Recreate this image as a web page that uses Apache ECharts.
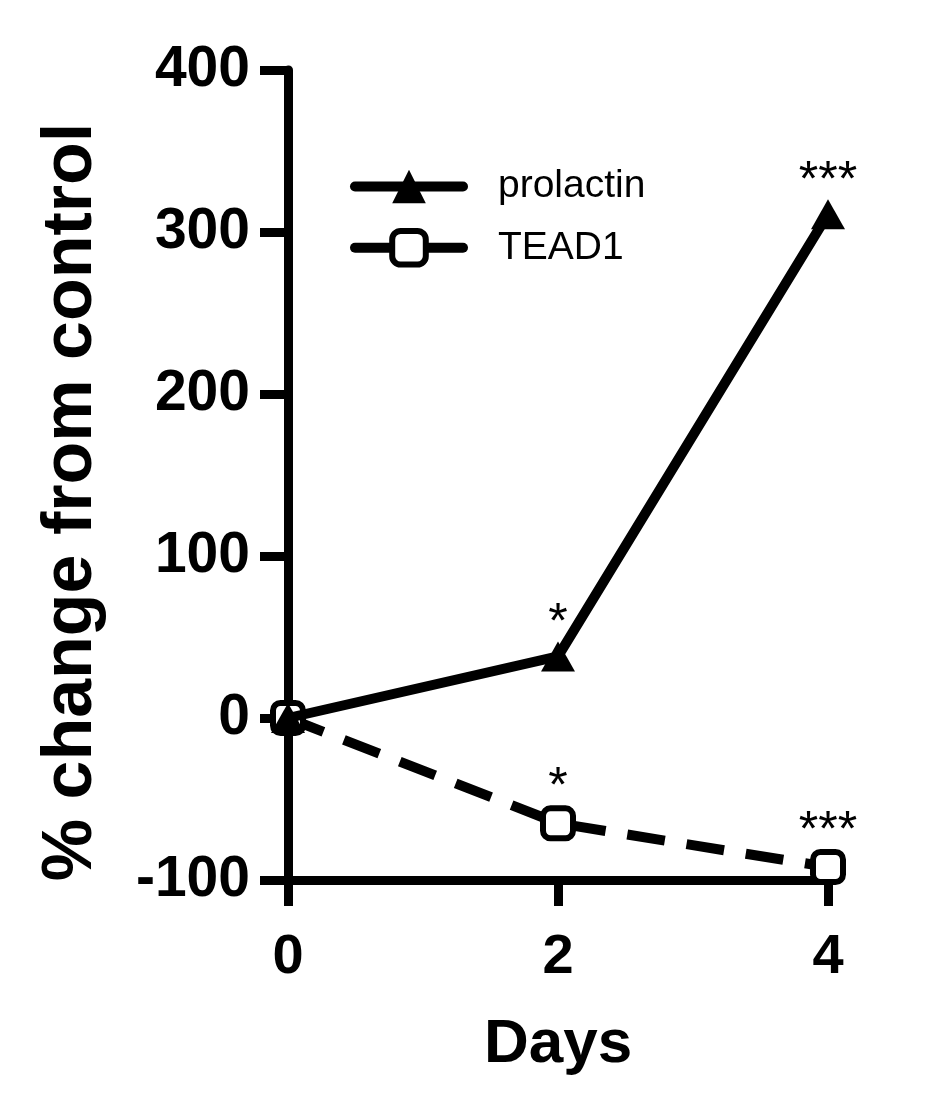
<!DOCTYPE html>
<html>
<head>
<meta charset="utf-8">
<script src="https://cdn.jsdelivr.net/npm/echarts@6/dist/echarts.min.js"></script>
<style>html,body{margin:0;padding:0;background:#fff;}#c{width:925px;height:1108px;}</style>
</head>
<body>
<div id="c"></div>
<script>
const days = [0, 2, 4];
const prolactin = [0, 38, 311];
const tead1 = [0, -65, -92];
const prolactinSig = ['', '*', '***'];
const tead1Sig = ['', '*', '***'];
const yTicks = [-100, 0, 100, 200, 300, 400];
const xTicks = [0, 2, 4];

const FONT = 'Liberation Sans, Arial, sans-serif';
const chart = echarts.init(document.getElementById('c'), null, {renderer: 'canvas'});

function pairs(xs, ys) { return xs.map((x, i) => [x, ys[i]]); }

const sigLabel = (arr) => ({
  show: true, position: 'top', distance: -8, color: '#000', fontSize: 50, fontFamily: FONT,
  formatter: p => arr[p.dataIndex]
});

chart.setOption({
  animation: false,
  backgroundColor: '#fff',
  grid: {left: 288, right: 97, top: 70, bottom: 228, containLabel: false},
  xAxis: {
    type: 'value', min: xTicks[0], max: xTicks[xTicks.length - 1], interval: 2,
    axisLine: {onZero: false, lineStyle: {color: '#000', width: 9}},
    axisTick: {show: true, length: 26, lineStyle: {color: '#000', width: 9}},
    splitLine: {show: false},
    axisLabel: {color: '#000', fontSize: 56, fontWeight: 'bold', fontFamily: FONT, margin: 50},
    name: 'Days', nameLocation: 'middle', nameGap: 134,
    nameTextStyle: {color: '#000', fontSize: 62, fontWeight: 'bold', fontFamily: FONT}
  },
  yAxis: {
    type: 'value', min: yTicks[0], max: yTicks[yTicks.length - 1], interval: 100,
    axisLine: {show: true, onZero: false, lineStyle: {color: '#000', width: 9}},
    axisTick: {show: true, length: 28, lineStyle: {color: '#000', width: 9}},
    splitLine: {show: false},
    axisLabel: {color: '#000', fontSize: 57, fontWeight: 'bold', fontFamily: FONT, margin: 38}
  },
  graphic: [{
    type: 'text', x: 72, y: 502, rotation: Math.PI / 2,
    style: {text: '% change from control', fill: '#000', font: 'bold 70px ' + FONT,
      textAlign: 'center', textVerticalAlign: 'middle'}
  }],
  legend: {
    orient: 'vertical', left: 345, top: 162, itemWidth: 108, itemHeight: 42, itemGap: 22,
    lineStyle: {width: 10, color: '#000', type: 'solid', cap: 'round'},
    textStyle: {color: '#000', fontSize: 39, fontFamily: FONT, padding: [0, 0, 0, 30]},
    data: [
      {name: 'prolactin', lineStyle: {width: 10, type: 'solid', cap: 'round'}},
      {name: 'TEAD1', lineStyle: {width: 10, type: 'solid', cap: 'round'}, itemStyle: {borderWidth: 6}}
    ]
  },
  series: [
    {
      name: 'TEAD1', type: 'line', data: pairs(days, tead1), clip: false, z: 2,
      symbol: 'roundRect', symbolSize: 30, showAllSymbol: true,
      lineStyle: {color: '#000', width: 10, type: [38, 22]},
      itemStyle: {color: '#fff', borderColor: '#000', borderWidth: 6},
      label: sigLabel(tead1Sig)
    },
    {
      name: 'prolactin', type: 'line', data: pairs(days, prolactin), clip: false, z: 3,
      symbol: 'triangle', symbolSize: [34, 30], showAllSymbol: true,
      lineStyle: {color: '#000', width: 10},
      itemStyle: {color: '#000', borderColor: '#000', borderWidth: 0},
      label: sigLabel(prolactinSig)
    }
  ]
});
</script>
</body>
</html>
